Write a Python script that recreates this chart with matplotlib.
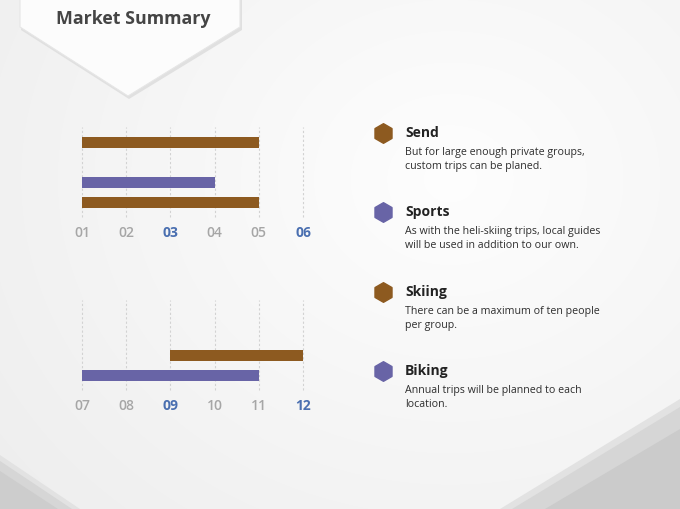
import numpy as np
import matplotlib
matplotlib.use("Agg")
import matplotlib.pyplot as plt
from matplotlib.patches import Polygon

# ---------------- data ----------------
top_ticks = ["01", "02", "03", "04", "05", "06"]
bottom_ticks = ["07", "08", "09", "10", "11", "12"]
top_start = [1, np.nan, 1, 1]
top_end = [5, np.nan, 4, 5]
top_series = ["Send", None, "Sports", "Send"]
bottom_start = [np.nan, np.nan, 9, 7]
bottom_end = [np.nan, np.nan, 12, 11]
bottom_series = [None, None, "Skiing", "Biking"]
highlight_ticks = ["03", "06", "09", "12"]

legend_names = ["Send", "Sports", "Skiing", "Biking"]
legend_desc = [
    "But for large enough private groups,\ncustom trips can be planed.",
    "As with the heli-skiing trips, local guides\nwill be used in addition to our own.",
    "There can be a maximum of ten people\nper group.",
    "Annual trips will be planned to each\nlocation.",
]
title = "Market Summary"

BROWN = "#8d5a20"
PURPLE = "#6864a6"
colors = {"Send": BROWN, "Skiing": BROWN, "Sports": PURPLE, "Biking": PURPLE}

W, H = 680, 510
fig = plt.figure(figsize=(W / 100, H / 100), dpi=100)
plt.rcParams['font.family'] = ['Open Sans', 'DejaVu Sans']

# ---------------- background ----------------
bg = fig.add_axes([0, 0, 1, 1])
bg.set_xlim(0, W)
bg.set_ylim(H, 0)
bg.axis("off")
yy, xx = np.mgrid[0:H, 0:W]
d = np.sqrt(((xx - 450) / 560.0) ** 2 + ((yy - 180) / 480.0) ** 2)
grad = np.clip(0.995 - 0.06 * d, 0.91, 1.0)
bg.imshow(np.dstack([grad, grad, grad]), extent=(0, W, H, 0), zorder=0, aspect="auto")

# bottom corner shadows (soft layered wedges)
left_layers = [((0, 456), (80, 510), "#e2e2e2"),
               ((0, 462), (72, 510), "#d6d6d6"),
               ((0, 472), (58, 510), "#cdcdcd")]
for (p1, p2, c) in left_layers:
    bg.add_patch(Polygon([p1, p2, (0, 510)], closed=True,
                         facecolor=c, edgecolor="none", zorder=1))
right_layers = [((680, 400), (500, 510), "#e2e2e2"),
                ((680, 408), (512, 510), "#d6d6d6"),
                ((680, 430), (545, 510), "#cbcbcb")]
for (p1, p2, c) in right_layers:
    bg.add_patch(Polygon([p1, (680, 510), p2], closed=True,
                         facecolor=c, edgecolor="none", zorder=1))

# header chevron
bg.add_patch(Polygon([(21, -2), (242, -2), (242, 31), (129, 100), (21, 31)], closed=True,
                     facecolor="#e0e0e0", edgecolor="none", zorder=2))
bg.add_patch(Polygon([(20, -2), (240, -2), (240, 28), (128, 97), (20, 28)], closed=True,
                     facecolor="#fcfcfc", edgecolor="#e6e6e6", lw=0.8, zorder=3))
bg.text(133, 19, title, ha="center", va="center", fontsize=12.8, fontweight="bold",
        color="#454545", zorder=4)

# ---------------- legend ----------------
leg_y = [133, 212, 292, 371]
leg_col = [BROWN, PURPLE, BROWN, PURPLE]
for name, desc, y, c in zip(legend_names, legend_desc, leg_y, leg_col):
    bg.scatter([383], [y + 1], marker="h", s=200, color=c, zorder=4)
    bg.text(405, y, name, ha="left", va="center", fontsize=10, fontweight="bold",
            color="#222222", zorder=4)
    bg.text(405, y + 14, desc, ha="left", va="top", fontsize=7.7, color="#2e2e2e",
            linespacing=1.35, zorder=4)


# ---------------- gantt charts ----------------
def gantt(y0, y1, labels, starts, ends, series, xmin):
    ax = fig.add_axes([82 / W, 1 - y1 / H, (303 - 82) / W, (y1 - y0) / H])
    ax.set_facecolor("none")
    n = len(starts)
    ax.set_xlim(xmin, xmin + len(labels) - 1)
    ax.set_ylim(n - 0.25, -0.75)
    for i, (s, e, ser) in enumerate(zip(starts, ends, series)):
        if ser is None or np.isnan(s):
            continue
        ax.barh(i, e - s, left=s, height=0.55, color=colors[ser], zorder=3)
    ticks = list(range(xmin, xmin + len(labels)))
    for t in ticks:
        ax.axvline(t, color="#d2d2d2", lw=0.8, ls=(0, (2, 2)), zorder=1, clip_on=False)
    for sp in ax.spines.values():
        sp.set_visible(False)
    ax.set_yticks([])
    ax.set_xticks(ticks)
    ax.set_xticklabels(labels)
    ax.tick_params(axis="x", length=0, pad=6, labelsize=10)
    for lab in ax.get_xticklabels():
        if lab.get_text() in highlight_ticks:
            lab.set_color("#4a6fb0")
            lab.set_fontweight("bold")
        else:
            lab.set_color("#a6a6a6")
            lab.set_fontweight("semibold")
    return ax


gantt(128, 218, top_ticks, top_start, top_end, top_series, 1)
gantt(301, 391, bottom_ticks, bottom_start, bottom_end, bottom_series, 7)

fig.savefig("out.png", dpi=100)
